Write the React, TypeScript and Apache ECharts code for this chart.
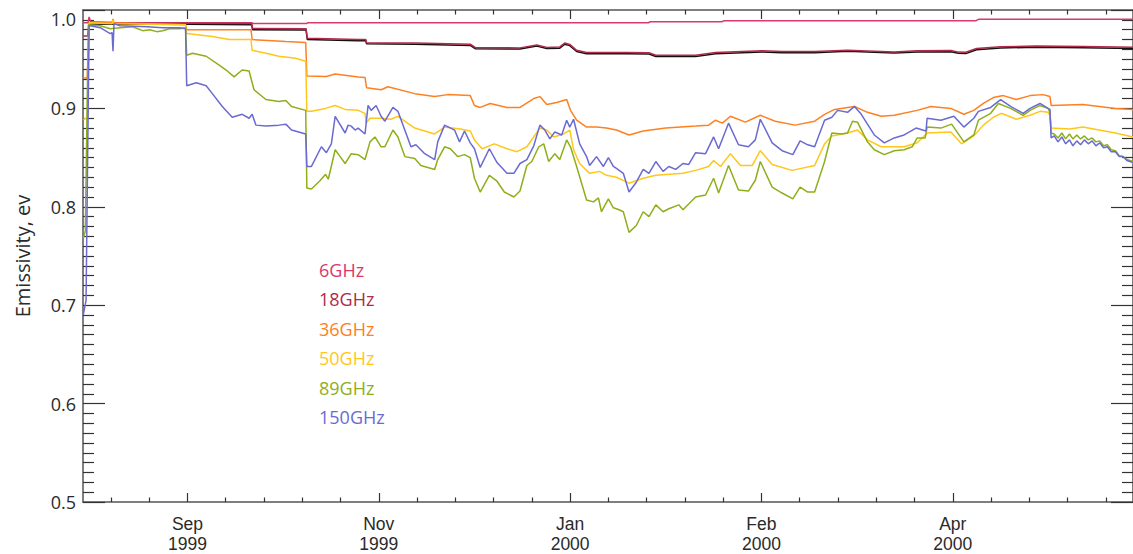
import React, { useEffect, useRef } from "react";
import * as echarts from "echarts";

// Day axis: Julian day minus 2451400 (day 22.5 = 1 Sep 1999, day 50 = 28 Sep 1999)
const dayMin = 22.7;
const dayMax = 297.1;

const majorTickDays = [50, 100, 150, 200, 250];
const majorTickMonths = ["Sep", "Nov", "Jan", "Feb", "Apr"];
const majorTickYears = ["1999", "1999", "2000", "2000", "2000"];

const bandNames = ["6GHz", "18GHz", "36GHz", "50GHz", "89GHz", "150GHz"];
const bandColors = ["#d8396c", "#b02a4a", "#ff8020", "#ffc71a", "#8fae1b", "#6a6ad2"];

// [day, emissivity]
const em6: [number, number][] = [
  [22.76, 0.987], [24.0, 0.987], [24.3, 0.993], [24.7, 0.988], [30.5, 0.9873], [66.9, 0.987],
  [67.1, 0.9862], [81.1, 0.9862], [81.4, 0.987], [170.4, 0.987], [171.0, 0.988], [189.6, 0.988],
  [190.3, 0.989], [256.0, 0.989], [256.7, 0.9905], [297.1, 0.9905],
];

const em18: [number, number][] = [
  [22.76, 0.9735], [23.9, 0.9735], [24.3, 0.987], [30.5, 0.9868], [50.0, 0.9866], [66.8, 0.9862],
  [67.0, 0.9812], [81.0, 0.981], [81.3, 0.9712], [94.6, 0.97], [96.6, 0.97], [96.8, 0.9668],
  [109.4, 0.9665], [123.9, 0.9652], [125.2, 0.962], [136.9, 0.9615], [141.3, 0.9645], [143.9, 0.962],
  [147.3, 0.9625], [148.6, 0.9665], [149.9, 0.965], [151.7, 0.959], [154.3, 0.9568], [164.7, 0.9568],
  [170.6, 0.9566], [172.4, 0.954], [182.8, 0.954], [188.0, 0.9568], [200.2, 0.9585], [205.4, 0.9578],
  [213.9, 0.9578], [222.5, 0.9592], [234.7, 0.9574], [240.7, 0.9585], [249.5, 0.9588], [251.5, 0.9572],
  [253.4, 0.957], [256.2, 0.9608], [262.5, 0.9626], [271.8, 0.9634], [284.0, 0.9628], [297.1, 0.9622],
];

const em18Dark: [number, number][] = [
  [24.3, 0.9858], [30.5, 0.9856], [50.0, 0.9854], [66.8, 0.985], [67.0, 0.98], [81.0, 0.9798],
  [81.3, 0.97], [94.6, 0.9688], [96.6, 0.9688], [96.8, 0.9656], [109.4, 0.9653], [123.9, 0.964],
  [125.2, 0.9607], [136.9, 0.9603], [141.3, 0.9633], [143.9, 0.9608], [147.3, 0.9612], [148.6, 0.9652],
  [149.9, 0.9638], [151.7, 0.9578], [154.3, 0.9556], [164.7, 0.9555], [170.6, 0.9553], [172.4, 0.9527],
  [182.8, 0.9528], [188.0, 0.9555], [200.2, 0.9573], [205.4, 0.9566], [213.9, 0.9565], [222.5, 0.958],
  [234.7, 0.9562], [240.7, 0.9573], [249.5, 0.9576], [251.5, 0.956], [253.4, 0.9557], [256.2, 0.9596],
  [262.5, 0.9614], [271.8, 0.9622], [284.0, 0.9616], [297.1, 0.961],
];

const em36: [number, number][] = [
  [22.76, 0.931], [23.8, 0.931], [24.3, 0.987], [30.3, 0.9875], [30.54, 0.991], [30.8, 0.987],
  [49.5, 0.985], [49.8, 0.98], [66.6, 0.98], [66.9, 0.97], [75.7, 0.968], [80.9, 0.967],
  [81.2, 0.933], [86.3, 0.9325], [88.6, 0.935], [94.6, 0.932], [96.4, 0.9315], [96.8, 0.921],
  [100.6, 0.919], [102.4, 0.922], [109.4, 0.915], [114.6, 0.912], [118.0, 0.914], [123.9, 0.913],
  [125.0, 0.903], [126.5, 0.901], [129.1, 0.905], [133.5, 0.901], [136.9, 0.901], [140.5, 0.91],
  [142.1, 0.912], [143.9, 0.904], [146.5, 0.906], [149.1, 0.909], [150.1, 0.898], [151.7, 0.888],
  [154.3, 0.881], [156.9, 0.881], [159.5, 0.88], [162.1, 0.878], [165.4, 0.873], [169.1, 0.877],
  [175.0, 0.88], [182.8, 0.882], [186.2, 0.883], [188.0, 0.888], [189.8, 0.885], [191.9, 0.892],
  [195.8, 0.886], [199.7, 0.893], [203.6, 0.887], [208.8, 0.883], [213.9, 0.887], [216.5, 0.894],
  [219.1, 0.899], [224.3, 0.902], [227.7, 0.896], [231.3, 0.892], [234.7, 0.893], [240.7, 0.898],
  [244.3, 0.902], [249.5, 0.9], [252.9, 0.894], [255.5, 0.898], [258.0, 0.905], [260.6, 0.911],
  [263.2, 0.913], [266.6, 0.909], [270.2, 0.913], [273.6, 0.914], [275.4, 0.912], [275.7, 0.903],
  [284.0, 0.904], [292.5, 0.9], [297.1, 0.899],
];

const em50: [number, number][] = [
  [22.76, 0.889], [23.8, 0.89], [24.3, 0.987], [30.3, 0.986], [30.54, 0.99], [30.8, 0.986],
  [49.5, 0.985], [49.8, 0.976], [56.5, 0.973], [60.9, 0.97], [66.6, 0.97], [66.9, 0.959],
  [70.5, 0.956], [73.9, 0.953], [78.3, 0.951], [80.9, 0.948], [81.2, 0.897], [82.4, 0.897],
  [86.1, 0.9], [88.6, 0.903], [91.2, 0.899], [94.6, 0.898], [96.4, 0.895], [96.7, 0.885],
  [97.7, 0.89], [100.6, 0.89], [103.2, 0.889], [105.0, 0.892], [109.4, 0.88], [114.6, 0.874],
  [117.2, 0.881], [121.3, 0.879], [123.9, 0.877], [125.0, 0.868], [127.0, 0.859], [130.2, 0.864],
  [133.5, 0.859], [136.1, 0.856], [138.7, 0.861], [142.1, 0.88], [143.9, 0.878], [145.7, 0.871],
  [148.3, 0.874], [149.9, 0.878], [150.9, 0.858], [152.5, 0.844], [155.1, 0.834], [157.7, 0.836],
  [159.5, 0.832], [162.1, 0.83], [165.4, 0.824], [169.1, 0.829], [172.4, 0.832], [179.5, 0.834],
  [182.8, 0.837], [186.2, 0.841], [187.5, 0.847], [189.3, 0.841], [191.9, 0.854], [194.5, 0.842],
  [197.6, 0.842], [199.7, 0.857], [202.8, 0.843], [208.0, 0.837], [213.9, 0.842], [216.5, 0.864],
  [218.4, 0.872], [222.5, 0.875], [225.1, 0.878], [227.7, 0.868], [231.3, 0.861], [234.7, 0.861],
  [237.3, 0.861], [240.7, 0.865], [243.3, 0.875], [249.5, 0.876], [252.3, 0.864], [255.5, 0.872],
  [258.0, 0.883], [260.6, 0.891], [262.7, 0.895], [266.6, 0.889], [270.2, 0.893], [272.8, 0.897],
  [274.9, 0.896], [275.4, 0.893], [275.7, 0.88], [280.6, 0.879], [284.0, 0.881], [292.5, 0.875],
  [297.1, 0.871],
];

const em89: [number, number][] = [
  [22.76, 0.768], [23.3, 0.775], [24.1, 0.985], [27.2, 0.984], [29.8, 0.981], [32.4, 0.982],
  [35.7, 0.983], [38.3, 0.979], [40.1, 0.98], [42.0, 0.978], [43.5, 0.979], [45.3, 0.981],
  [47.9, 0.981], [49.5, 0.982], [49.8, 0.954], [51.3, 0.956], [54.9, 0.953], [58.3, 0.944],
  [60.1, 0.939], [62.2, 0.932], [64.3, 0.939], [66.1, 0.938], [67.4, 0.919], [70.5, 0.909],
  [73.9, 0.907], [75.7, 0.908], [77.2, 0.902], [80.9, 0.898], [81.2, 0.819], [82.4, 0.818],
  [84.5, 0.826], [86.1, 0.833], [86.8, 0.828], [88.6, 0.858], [89.9, 0.851], [91.2, 0.844],
  [92.8, 0.854], [94.6, 0.853], [96.4, 0.848], [97.7, 0.866], [99.0, 0.871], [100.6, 0.861],
  [101.6, 0.861], [103.7, 0.878], [105.0, 0.871], [106.8, 0.851], [109.4, 0.849], [111.0, 0.842],
  [114.6, 0.838], [115.4, 0.848], [117.2, 0.861], [118.7, 0.859], [120.6, 0.851], [122.4, 0.853],
  [123.9, 0.85], [125.0, 0.829], [126.5, 0.815], [128.9, 0.832], [130.9, 0.826], [132.8, 0.815],
  [135.3, 0.81], [136.9, 0.816], [138.7, 0.842], [140.0, 0.846], [141.8, 0.861], [143.1, 0.864],
  [144.4, 0.846], [146.0, 0.854], [147.3, 0.848], [149.1, 0.868], [150.1, 0.861], [151.7, 0.841],
  [154.3, 0.807], [156.1, 0.805], [157.4, 0.809], [158.2, 0.795], [160.0, 0.808], [161.3, 0.799],
  [162.8, 0.797], [163.9, 0.795], [165.4, 0.774], [167.3, 0.781], [169.1, 0.795], [170.6, 0.79],
  [172.4, 0.802], [174.3, 0.795], [175.8, 0.798], [178.4, 0.802], [179.5, 0.797], [182.8, 0.81],
  [185.4, 0.812], [187.5, 0.829], [188.8, 0.814], [191.4, 0.842], [194.0, 0.817], [196.6, 0.816],
  [198.4, 0.827], [199.7, 0.846], [202.8, 0.82], [205.4, 0.814], [208.2, 0.808], [210.1, 0.82],
  [212.1, 0.815], [213.9, 0.815], [216.5, 0.846], [218.4, 0.875], [220.9, 0.874], [222.5, 0.875],
  [223.8, 0.887], [225.1, 0.886], [227.7, 0.866], [229.5, 0.858], [232.1, 0.853], [234.7, 0.857],
  [237.3, 0.858], [239.4, 0.861], [240.7, 0.87], [242.8, 0.87], [243.3, 0.881], [246.9, 0.88],
  [249.7, 0.884], [252.9, 0.866], [255.5, 0.873], [256.7, 0.888], [259.9, 0.895], [261.9, 0.905],
  [265.1, 0.9], [268.4, 0.893], [270.2, 0.898], [272.8, 0.903], [274.9, 0.9], [275.4, 0.896],
  [275.7, 0.875], [276.5, 0.874], [277.5, 0.87], [278.5, 0.875], [279.5, 0.869], [280.5, 0.874],
  [281.4, 0.869], [282.4, 0.873], [283.4, 0.869], [284.4, 0.872], [285.4, 0.868], [286.4, 0.87],
  [287.4, 0.866], [288.4, 0.867], [289.4, 0.862], [290.4, 0.863], [291.4, 0.858], [292.5, 0.857],
  [293.5, 0.852], [294.5, 0.851], [295.5, 0.848], [297.1, 0.846],
];

const em150: [number, number][] = [
  [22.76, 0.69], [23.5, 0.705], [24.3, 0.984], [24.6, 0.984], [27.2, 0.982], [29.8, 0.976],
  [30.3, 0.977], [30.54, 0.958], [30.8, 0.986], [32.4, 0.984], [39.4, 0.983], [43.5, 0.982],
  [47.9, 0.982], [49.5, 0.981], [49.8, 0.923], [52.3, 0.926], [54.9, 0.923], [56.5, 0.915],
  [59.1, 0.902], [61.7, 0.891], [64.3, 0.894], [66.1, 0.89], [66.9, 0.894], [67.9, 0.883],
  [70.5, 0.882], [73.9, 0.883], [75.7, 0.884], [77.2, 0.878], [80.9, 0.874], [81.2, 0.841],
  [82.4, 0.841], [85.0, 0.861], [86.3, 0.855], [87.6, 0.864], [88.6, 0.892], [91.2, 0.875],
  [92.0, 0.883], [92.8, 0.882], [93.8, 0.878], [94.6, 0.88], [96.4, 0.874], [97.2, 0.903],
  [98.0, 0.898], [99.3, 0.903], [100.6, 0.892], [101.6, 0.887], [103.7, 0.901], [105.0, 0.897],
  [106.8, 0.878], [108.4, 0.861], [109.7, 0.863], [112.0, 0.854], [114.6, 0.848], [115.4, 0.866],
  [117.2, 0.883], [119.8, 0.878], [121.1, 0.866], [122.4, 0.877], [123.9, 0.865], [125.0, 0.859],
  [126.5, 0.84], [128.9, 0.859], [130.9, 0.845], [133.5, 0.834], [135.3, 0.834], [136.9, 0.844],
  [138.7, 0.848], [140.5, 0.862], [142.1, 0.883], [143.4, 0.878], [144.7, 0.869], [146.0, 0.876],
  [147.8, 0.873], [149.1, 0.888], [149.9, 0.881], [150.9, 0.889], [152.5, 0.864], [154.3, 0.851],
  [155.1, 0.842], [156.9, 0.851], [158.7, 0.841], [160.0, 0.85], [161.3, 0.841], [162.1, 0.839],
  [163.9, 0.834], [165.4, 0.815], [167.3, 0.825], [169.1, 0.838], [170.6, 0.834], [172.4, 0.846],
  [174.3, 0.836], [175.8, 0.841], [177.6, 0.838], [179.5, 0.844], [181.0, 0.843], [182.8, 0.855],
  [185.4, 0.854], [187.5, 0.871], [188.8, 0.859], [191.4, 0.885], [194.0, 0.863], [196.6, 0.861],
  [198.4, 0.868], [199.7, 0.889], [202.8, 0.865], [205.4, 0.857], [208.2, 0.853], [210.1, 0.867],
  [212.1, 0.863], [213.9, 0.861], [216.5, 0.888], [218.4, 0.891], [219.9, 0.898], [222.5, 0.896],
  [224.3, 0.902], [226.1, 0.894], [227.7, 0.884], [229.5, 0.873], [232.1, 0.865], [234.7, 0.87],
  [237.3, 0.873], [240.4, 0.88], [243.0, 0.877], [243.3, 0.89], [246.9, 0.888], [250.3, 0.892],
  [252.9, 0.881], [255.5, 0.89], [256.7, 0.897], [259.9, 0.901], [262.5, 0.909], [265.1, 0.902],
  [268.4, 0.895], [270.2, 0.9], [272.8, 0.905], [274.9, 0.9], [275.4, 0.899], [275.7, 0.87],
  [276.5, 0.872], [277.5, 0.866], [278.5, 0.871], [279.5, 0.864], [280.5, 0.868], [281.4, 0.862],
  [282.4, 0.867], [283.4, 0.863], [284.4, 0.868], [285.4, 0.864], [286.4, 0.867], [287.4, 0.862],
  [288.4, 0.865], [289.4, 0.86], [290.4, 0.861], [291.4, 0.856], [292.5, 0.856], [293.5, 0.851],
  [294.5, 0.851], [295.5, 0.847], [297.1, 0.845],
];

const bandData = [em6, em18, em36, em50, em89, em150];

export default function App() {
  const ref = useRef<HTMLDivElement>(null);

  useEffect(() => {
    document.body.style.margin = "0";
    if (!ref.current) return;
    const chart = echarts.init(ref.current, undefined, { renderer: "svg" });

    const font = "'Open Sans', 'DejaVu Sans', sans-serif";
    const dateFont = "'Liberation Sans', Arial, sans-serif";
    const textColor = "#2a2a2a";
    const axisLineStyle = { color: "#555", width: 1.5 };
    const tickStyle = { color: "#333", width: 1.2 };

    const minorDays: number[] = [];
    for (let d = 30; d <= 290; d += 10) if (d % 50 !== 0) minorDays.push(d);

    const xBase = {
      type: "value" as const,
      gridIndex: 0,
      min: dayMin,
      max: dayMax,
      splitLine: { show: false },
    };

    const tickLabel = (names: string[], margin: number) => ({
      show: true,
      customValues: majorTickDays,
      formatter: (v: number) => {
        const i = majorTickDays.indexOf(Math.round(v));
        return i >= 0 ? names[i] : "";
      },
      margin,
      fontFamily: dateFont,
      fontSize: 17.5,
      lineHeight: 17.5,
      color: textColor,
    });

    const majorTicks = (pos: "bottom" | "top", withLabels: boolean) => ({
      ...xBase,
      position: pos,
      axisLine: { show: true, lineStyle: axisLineStyle },
      axisTick: { show: true, inside: true, length: 9, customValues: majorTickDays, lineStyle: tickStyle },
      axisLabel: withLabels ? tickLabel(majorTickMonths, 13) : { show: false },
    });

    const minorTicks = (pos: "bottom" | "top") => ({
      ...xBase,
      position: pos,
      axisLine: { show: false },
      axisTick: { show: true, inside: true, length: 4.5, customValues: minorDays, lineStyle: tickStyle },
      axisLabel: { show: false },
    });

    const yearLabels = {
      ...xBase,
      position: "bottom" as const,
      axisLine: { show: false },
      axisTick: { show: false },
      axisLabel: tickLabel(majorTickYears, 33),
    };

    const yBase = {
      type: "value" as const,
      min: 0.5,
      max: 1.0,
      interval: 0.1,
      splitLine: { show: false },
      axisLine: { show: true, lineStyle: axisLineStyle },
      axisTick: { show: true, inside: true, length: 22, lineStyle: tickStyle },
      minorTick: { show: true, splitNumber: 10, length: 11, lineStyle: tickStyle },
      minorSplitLine: { show: false },
    };

    const series: any[] = [];
    const addLine = (name: string, data: [number, number][], color: string) =>
      series.push({
        type: "line",
        name,
        data,
        xAxisIndex: 0,
        yAxisIndex: 0,
        showSymbol: false,
        symbol: "none",
        silent: true,
        lineStyle: { width: 1.5, color },
        itemStyle: { color },
        emphasis: { disabled: true },
      });

    addLine(bandNames[0], em6, bandColors[0]);
    addLine("18GHz dark", em18Dark, "#111111");
    for (let i = 1; i < bandNames.length; i++) addLine(bandNames[i], bandData[i], bandColors[i]);

    chart.setOption({
      animation: false,
      backgroundColor: "#ffffff",
      grid: { left: 83, right: -8, top: 10, bottom: 52, containLabel: false },
      xAxis: [
        majorTicks("bottom", true),
        minorTicks("bottom"),
        majorTicks("top", false),
        minorTicks("top"),
        yearLabels,
      ],
      yAxis: [
        {
          ...yBase,
          position: "left",
          axisLabel: {
            formatter: (v: number) => v.toFixed(1),
            margin: 7,
            fontFamily: font,
            fontSize: 18,
            color: textColor,
            verticalAlignMaxLabel: "top",
          },
          name: "Emissivity, ev",
          nameLocation: "middle",
          nameGap: 51,
          nameRotate: 90,
          nameTextStyle: { fontFamily: font, fontSize: 20, color: textColor },
        },
        { ...yBase, position: "right", axisLabel: { show: false } },
      ],
      legend: {
        show: true,
        orient: "vertical",
        left: 309,
        top: 255,
        icon: "none",
        itemWidth: 0,
        itemHeight: 14,
        itemGap: 9.4,
        selectedMode: false,
        textStyle: { fontFamily: font, fontSize: 18, lineHeight: 20 },
        data: bandNames.map((n, i) => ({ name: n, textStyle: { color: bandColors[i] } })),
      },
      series,
    });

    return () => chart.dispose();
  }, []);

  return <div ref={ref} style={{ width: 1133, height: 554 }} />;
}
